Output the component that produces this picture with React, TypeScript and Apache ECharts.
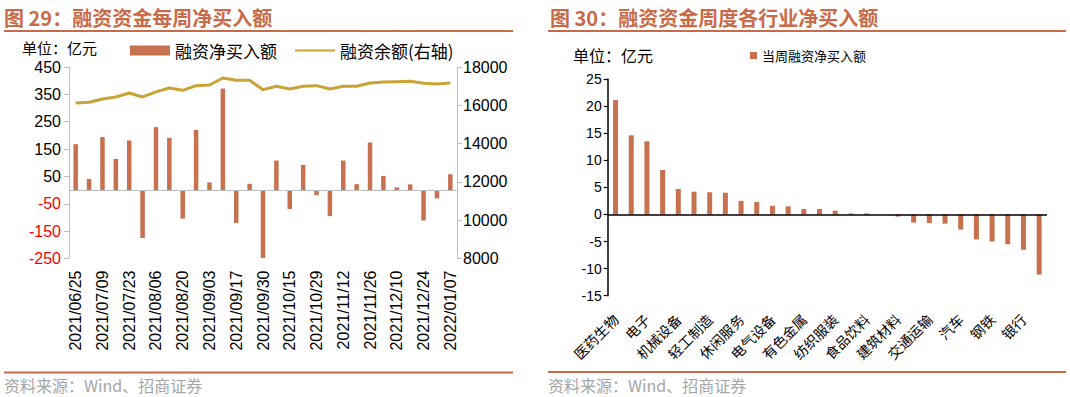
import React, { useEffect, useRef } from 'react';
import * as echarts from 'echarts';

// ---------- Left chart data ----------
const weeks = [
  '2021/06/25', '2021/07/02', '2021/07/09', '2021/07/16', '2021/07/23', '2021/07/30',
  '2021/08/06', '2021/08/13', '2021/08/20', '2021/08/27', '2021/09/03', '2021/09/10',
  '2021/09/17', '2021/09/24', '2021/09/30', '2021/10/08', '2021/10/15', '2021/10/22',
  '2021/10/29', '2021/11/05', '2021/11/12', '2021/11/19', '2021/11/26', '2021/12/03',
  '2021/12/10', '2021/12/17', '2021/12/24', '2021/12/31', '2022/01/07',
];
const netBuy = [
  168, 41, 194, 114, 181, -175, 230, 191, -104, 220, 28, 371, -120, 23, -248,
  108, -69, 92, -19, -95, 108, 22, 174, 52, 10, 21, -111, -30, 58,
];
const balance = [
  16122, 16157, 16330, 16435, 16643, 16435, 16700, 16904, 16783, 17026, 17060, 17426,
  17304, 17304, 16817, 16991, 16852, 16991, 17026, 16852, 16991, 16991, 17165, 17217,
  17235, 17252, 17148, 17113, 17165,
];
const leftTicks = { min: -250, max: 450, interval: 100 };
const rightTicks = { min: 8000, max: 18000, interval: 2000 };

// ---------- Right chart data ----------
const industries = [
  '医药生物', '计算机', '电子', '化工', '机械设备', '国防军工', '轻工制造', '传媒',
  '休闲服务', '通信', '电气设备', '家用电器', '有色金属', '农林牧渔', '纺织服装', '公用事业',
  '食品饮料', '综合', '建筑材料', '建筑装饰', '交通运输', '商业贸易', '汽车', '采掘',
  '钢铁', '房地产', '银行', '非银金融',
];
const industryNetBuy = [
  21.1, 14.6, 13.5, 8.2, 4.7, 4.2, 4.1, 4.0, 2.5, 2.3, 1.6, 1.5, 1.0, 1.0, 0.7, 0.2,
  0.2, 0.0, -0.4, -1.5, -1.6, -1.7, -2.8, -4.6, -5.0, -5.5, -6.5, -11.1,
];
const industryTicks = { min: -15, max: 25, interval: 5 };

const ORANGE = '#C96A48';
const BAR = '#C8714F';
const GOLD = '#C9A335';
const CJK = '"Noto Sans CJK SC", sans-serif';
const NUM = '"Liberation Sans", Arial, sans-serif';

function txt(text: string, x: number, y: number, font: string, fill: string) {
  return {
    type: 'text',
    silent: true,
    style: { text, x, y, font, fill, textAlign: 'left', textVerticalAlign: 'middle', align: 'left', verticalAlign: 'middle' },
  };
}
function hline(x1: number, x2: number, y: number) {
  return {
    type: 'line',
    silent: true,
    shape: { x1, y1: y, x2, y2: y },
    style: { stroke: ORANGE, lineWidth: 2 },
  };
}

export default function App() {
  const ref = useRef<HTMLDivElement>(null);
  useEffect(() => {
    const chart = echarts.init(ref.current!, null, { renderer: 'svg' });
    const option: any = {
      animation: false,
      backgroundColor: '#fff',
      graphic: [
        txt('图 29：融资资金每周净买入额', 4, 17, `bold 20px ${CJK}`, ORANGE),
        hline(4, 513, 31),
        txt('单位：亿元', 22, 47, `15px ${CJK}`, '#000'),
        hline(4, 513, 372.5),
        txt('资料来源：Wind、招商证券', 4, 385, `16px ${CJK}`, '#A6A6A6'),
        txt('图 30：融资资金周度各行业净买入额', 550, 17, `bold 20px ${CJK}`, ORANGE),
        hline(548, 1066, 31),
        txt('单位：亿元', 573, 55, `16px ${CJK}`, '#000'),
        hline(548, 1066, 372),
        txt('资料来源：Wind、招商证券', 548, 385, `16px ${CJK}`, '#A6A6A6'),
      ],
      legend: [
        {
          left: 130,
          top: 42,
          padding: 0,
          itemGap: 17,
          itemWidth: 40,
          itemHeight: 10,
          textStyle: { fontSize: 17, fontFamily: CJK, color: '#000' },
          data: [
            { name: '融资净买入额', icon: 'rect' },
            { name: '融资余额(右轴)', itemStyle: { color: 'rgba(0,0,0,0)', borderWidth: 0 } },
          ],
        },
        {
          left: 750,
          top: 49,
          padding: 0,
          itemWidth: 7,
          itemHeight: 7,
          textStyle: { fontSize: 13, fontFamily: CJK, color: '#000' },
          data: [{ name: '当周融资净买入额', icon: 'rect' }],
        },
      ],
      grid: [
        { left: 69, right: 613, top: 67, bottom: 138.5, containLabel: false },
        { left: 607.7, right: 23, top: 79, bottom: 101.3, containLabel: false },
      ],
      xAxis: [
        {
          type: 'category',
          gridIndex: 0,
          data: weeks,
          axisLine: { show: false, onZero: false },
          axisTick: { show: false },
          axisLabel: { interval: 1, rotate: 90, fontSize: 16, fontFamily: NUM, color: '#000', margin: 12 },
        },
        {
          type: 'category',
          gridIndex: 1,
          data: industries,
          axisLine: { show: false, onZero: false },
          axisTick: { show: false },
          axisLabel: { interval: 1, rotate: 45, fontSize: 14, fontFamily: CJK, color: '#000', margin: 21 },
        },
      ],
      yAxis: [
        {
          type: 'value',
          gridIndex: 0,
          position: 'left',
          ...leftTicks,
          splitLine: { show: false },
          axisLine: { show: true, lineStyle: { color: '#BFBFBF', width: 1 } },
          axisTick: { show: true, length: 5, lineStyle: { color: '#BFBFBF' } },
          axisLabel: {
            margin: 8,
            fontSize: 16,
            fontFamily: NUM,
            color: (v: any) => (Number(v) < 0 ? '#FF0000' : '#000000'),
          },
        },
        {
          type: 'value',
          gridIndex: 0,
          position: 'right',
          ...rightTicks,
          splitLine: { show: false },
          axisLine: { show: true, lineStyle: { color: '#BFBFBF', width: 1 } },
          axisTick: { show: true, length: 5, lineStyle: { color: '#BFBFBF' } },
          axisLabel: {
            margin: 6,
            fontSize: 16,
            fontFamily: NUM,
            color: '#000',
            formatter: (v: number) => String(v),
          },
        },
        {
          type: 'value',
          gridIndex: 1,
          position: 'left',
          ...industryTicks,
          splitLine: { show: false },
          axisLine: { show: true, lineStyle: { color: '#000', width: 1.5 } },
          axisTick: { show: true, length: 4, lineStyle: { color: '#000', width: 1.2 } },
          axisLabel: { margin: 6, fontSize: 14, fontFamily: NUM, color: '#000' },
        },
      ],
      series: [
        {
          name: '融资净买入额',
          type: 'bar',
          xAxisIndex: 0,
          yAxisIndex: 0,
          data: netBuy,
          barWidth: 4.5,
          itemStyle: { color: BAR },
          markLine: {
            silent: true,
            symbol: 'none',
            label: { show: false },
            lineStyle: { color: '#BFBFBF', type: 'solid', width: 1 },
            data: [{ yAxis: 0 }],
          },
        },
        {
          name: '融资余额(右轴)',
          type: 'line',
          xAxisIndex: 0,
          yAxisIndex: 1,
          data: balance,
          symbol: 'none',
          lineStyle: { color: GOLD, width: 3 },
          itemStyle: { color: GOLD },
        },
        {
          name: '当周融资净买入额',
          type: 'bar',
          xAxisIndex: 1,
          yAxisIndex: 2,
          data: industryNetBuy,
          barWidth: 5,
          itemStyle: { color: BAR },
          markLine: {
            silent: true,
            symbol: 'none',
            label: { show: false },
            lineStyle: { color: '#000', type: 'solid', width: 1.5 },
            data: [{ yAxis: 0 }],
          },
        },
      ],
    };
    chart.setOption(option);
    return () => chart.dispose();
  }, []);
  return (
    <div
      ref={ref}
      style={{ position: 'fixed', left: 0, top: 0, width: 1070, height: 397, background: '#fff' }}
    />
  );
}
